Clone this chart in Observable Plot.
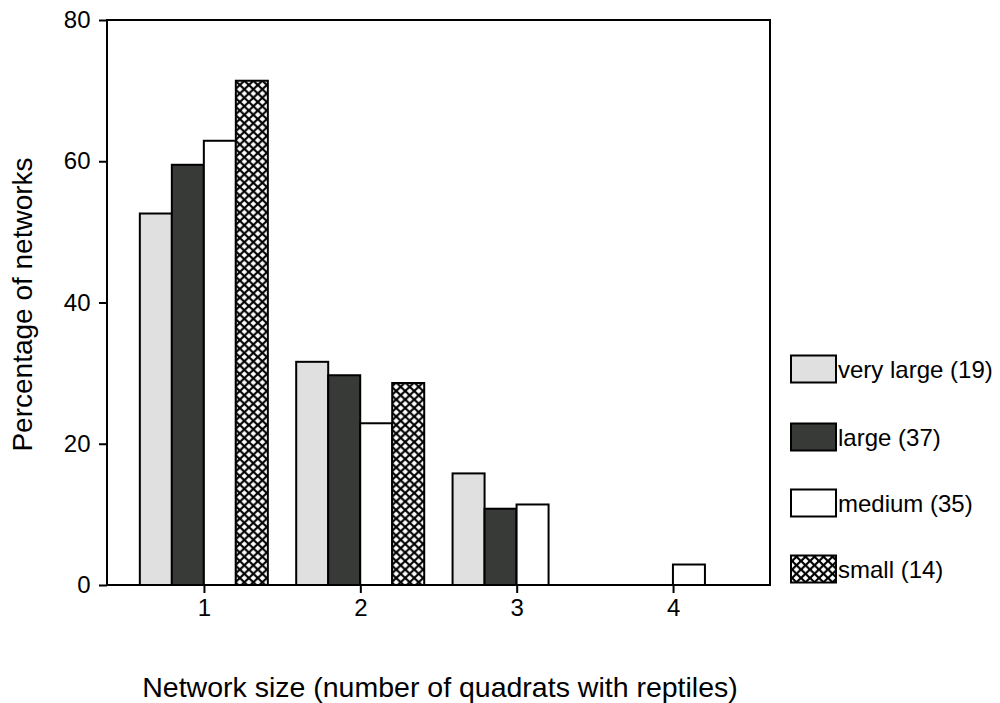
<!DOCTYPE html>
<html>
<head>
<meta charset="utf-8">
<script src="https://cdn.jsdelivr.net/npm/d3@7"></script>
<script src="https://cdn.jsdelivr.net/npm/@observablehq/plot@0.6"></script>
<style>
  body { margin: 0; background: #fff; }
  #chart { width: 1000px; height: 703px; }
</style>
</head>
<body>
<div id="chart"></div>
<script>
// ---- data ----
const sizes = ["1", "2", "3", "4"];
const seriesNames = ["very large (19)", "large (37)", "medium (35)", "small (14)"];
const veryLarge = [52.6, 31.6, 15.8, 0];
const large = [59.5, 29.7, 10.8, 0];
const medium = [62.9, 22.9, 11.4, 2.9];
const small = [71.4, 28.6, 0, 0];
const yTicks = [0, 20, 40, 60, 80];
const xTitle = "Network size (number of quadrats with reptiles)";
const yTitle = "Percentage of networks";

// ---- styles ----
const fills = ["#e0e0e0", "#383a38", "#ffffff", "url(#xhatch)"];
const W = 1000, H = 703;
const mL = 107, mR = 230, mT = 20, mB = 118;
const font = "'Liberation Sans', Arial, Helvetica, sans-serif";
const fxOpts = { domain: sizes, paddingInner: 0.18, paddingOuter: 0.21, round: false };

const valueSets = [veryLarge, large, medium, small];
const data = [];
sizes.forEach((s, i) => {
  seriesNames.forEach((n, j) => {
    const v = valueSets[j][i];
    if (v > 0) data.push({ size: s, series: n, value: v });
  });
});

// offset of first facet from plot's left edge (so the y axis sits on the frame)
const fxScale = Plot.scale({ fx: { ...fxOpts, range: [mL, W - mR] } });
const axisDx = mL - fxScale.apply(sizes[0]);

const svg = Plot.plot({
  width: W,
  height: H,
  marginLeft: mL,
  marginRight: mR,
  marginTop: mT,
  marginBottom: mB,
  style: { fontFamily: font, fontSize: "24px", background: "white", color: "black" },
  fx: { ...fxOpts, label: null },
  x: { domain: seriesNames, padding: 0, axis: null },
  y: { domain: [0, 80], label: null },
  color: { domain: seriesNames, range: fills },
  marks: [
    Plot.barY(data, { fx: "size", x: "series", y: "value", fill: "series", stroke: "black", strokeWidth: 2 }),
    Plot.axisY({ ticks: yTicks, tickSize: 8, tickPadding: 9, strokeWidth: 2, fontSize: 24, dx: axisDx, label: null }),
    Plot.axisFx({ anchor: "bottom", tickSize: 8, tickPadding: 5, strokeWidth: 2, fontSize: 24, label: null })
  ]
});

const root = d3.select(svg);

// pattern for crosshatch
const pw = 9, ph = 8.5;
const defs = root.insert("defs", ":first-child");
const pat = defs.append("pattern")
  .attr("id", "xhatch")
  .attr("patternUnits", "userSpaceOnUse")
  .attr("width", pw).attr("height", ph);
pat.append("rect").attr("width", pw).attr("height", ph).attr("fill", "white");
pat.append("path")
  .attr("d", `M0,0L${pw},${ph}M0,${ph}L${pw},0`)
  .attr("stroke", "black").attr("stroke-width", 2.2).attr("stroke-linecap", "square");

// plot frame
root.append("rect")
  .attr("x", mL).attr("y", mT)
  .attr("width", W - mL - mR).attr("height", H - mT - mB)
  .attr("fill", "none").attr("stroke", "black").attr("stroke-width", 2);

// axis titles
root.append("text")
  .attr("transform", `translate(32,${(mT + H - mB) / 2 + 2}) rotate(-90)`)
  .attr("text-anchor", "middle")
  .style("font-family", font).style("font-size", "28px")
  .attr("fill", "black")
  .text(yTitle);

root.append("text")
  .attr("x", 440).attr("y", 697)
  .attr("text-anchor", "middle")
  .style("font-family", font).style("font-size", "28.5px")
  .attr("fill", "black")
  .text(xTitle);

// legend
const legendY = [369, 437, 503, 569];
const lg = root.append("g");
seriesNames.forEach((n, j) => {
  const cy = legendY[j];
  lg.append("rect")
    .attr("x", 791).attr("y", cy - 13.5)
    .attr("width", 45).attr("height", 27)
    .attr("fill", fills[j]).attr("stroke", "black").attr("stroke-width", 2);
  lg.append("text")
    .attr("x", 838).attr("y", cy + 8.5)
    .attr("text-anchor", "start")
    .style("font-family", font).style("font-size", "24px")
    .attr("fill", "black")
    .text(n);
});

document.getElementById("chart").appendChild(svg);
</script>
</body>
</html>
